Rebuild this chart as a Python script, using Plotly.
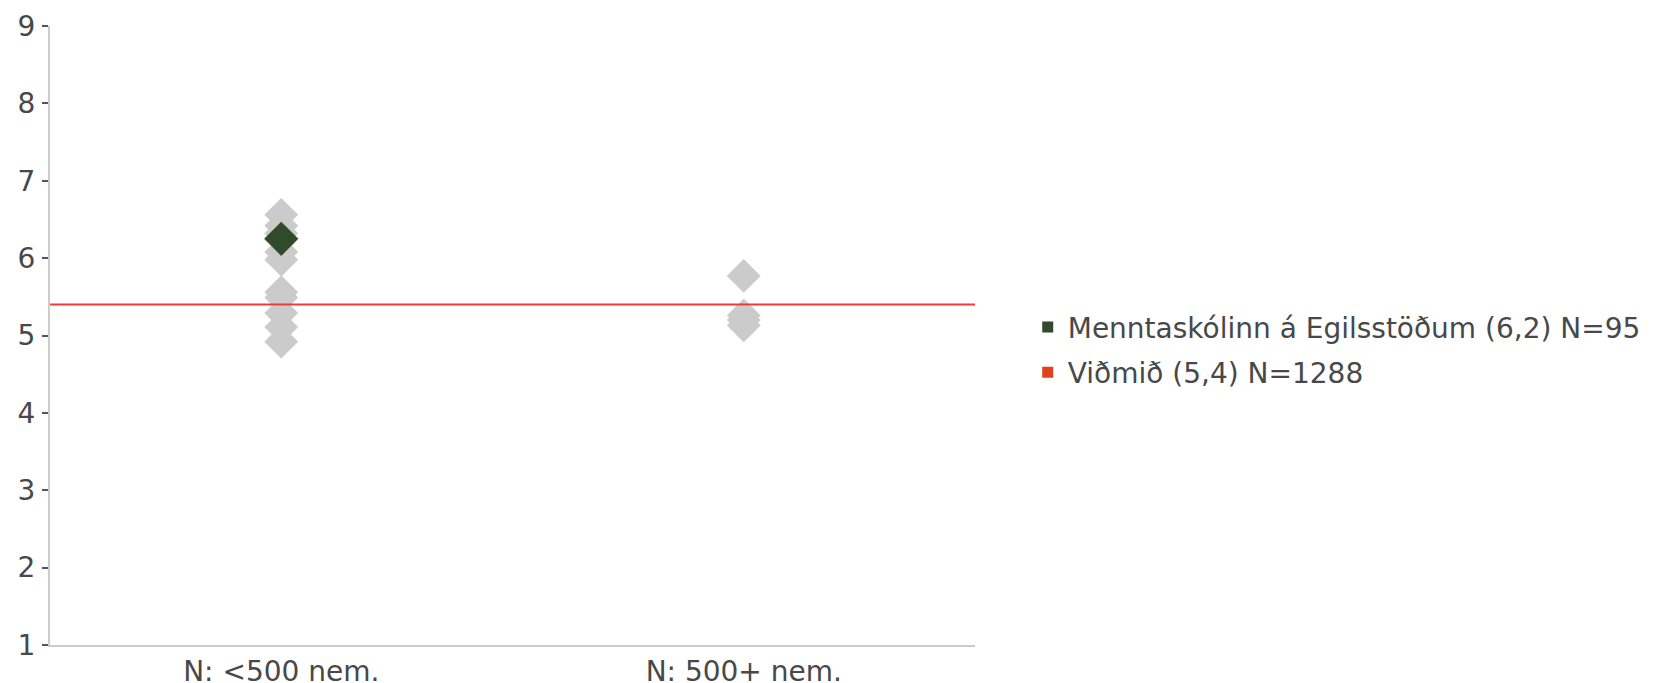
import plotly.graph_objects as go

categories = ["N: <500 nem.", "N: 500+ nem."]
small_values = [6.56, 6.42, 6.32, 6.08, 5.98, 5.56, 5.49, 5.29, 5.11, 4.92]
large_values = [5.77, 5.26, 5.20, 5.13]
school_name = "Menntaskólinn á Egilsstöðum (6,2) N=95"
school_category = "N: <500 nem."
school_value = 6.25
benchmark_name = "Viðmið (5,4) N=1288"
benchmark_value = 5.4
y_ticks = [1, 2, 3, 4, 5, 6, 7, 8, 9]

FONT = "DejaVu Sans"
GRAY = "#cbcbcb"
GREEN = "#2e4b2c"
LINE_RED = "#f2393a"
LEGEND_RED = "#e0401c"
TEXT = "#484848"

fig = go.Figure()

fig.add_trace(go.Scatter(
    x=[categories[0]] * len(small_values) + [categories[1]] * len(large_values),
    y=small_values + large_values,
    mode="markers",
    marker=dict(symbol="diamond", size=26, color=GRAY, line=dict(width=0)),
    showlegend=False, hoverinfo="y",
))

fig.add_trace(go.Scatter(
    x=[school_category], y=[school_value],
    mode="markers",
    marker=dict(symbol="diamond", size=26, color=GREEN, line=dict(width=0.5, color="#5a4a20")),
    showlegend=False,
))

fig.add_hline(y=benchmark_value, line=dict(color=LINE_RED, width=2), layer="above")

# legend entries
fig.add_trace(go.Scatter(
    x=[None], y=[None], mode="markers", name=school_name,
    marker=dict(symbol="square", size=11, color=GREEN),
    legendgroup="a",
))
fig.add_trace(go.Scatter(
    x=[None], y=[None], mode="markers", name=benchmark_name,
    marker=dict(symbol="square", size=11, color=LEGEND_RED),
    legendgroup="b",
))

fig.update_layout(
    width=1649, height=675,
    margin=dict(l=42, r=682, t=18, b=38, autoexpand=False),
    paper_bgcolor="white", plot_bgcolor="white",
    font=dict(family=FONT, size=28, color=TEXT),
    legend=dict(
        x=1.057, y=0.477, xanchor="left", yanchor="middle",
        font=dict(family=FONT, size=28, color=TEXT),
        itemsizing="trace", traceorder="grouped", tracegroupgap=6,
        bgcolor="rgba(0,0,0,0)", itemwidth=30,
    ),
    xaxis=dict(
        type="category", categoryorder="array", categoryarray=categories,
        range=[-0.5, 1.5], showgrid=False, zeroline=False, automargin=False,
        showline=True, linecolor="#cccccc", linewidth=2,
        ticks="", tickfont=dict(family=FONT, size=28, color=TEXT),
    ),
    yaxis=dict(
        range=[1, 9], tickvals=y_ticks, showgrid=False, zeroline=False, automargin=False,
        showline=True, linecolor="#cccccc", linewidth=2,
        ticks="outside", ticklen=6, tickwidth=1.5, tickcolor="#555566",
        tickfont=dict(family=FONT, size=28, color=TEXT),
        ticklabelstandoff=1,
    ),
)

fig.write_html("out.html")
